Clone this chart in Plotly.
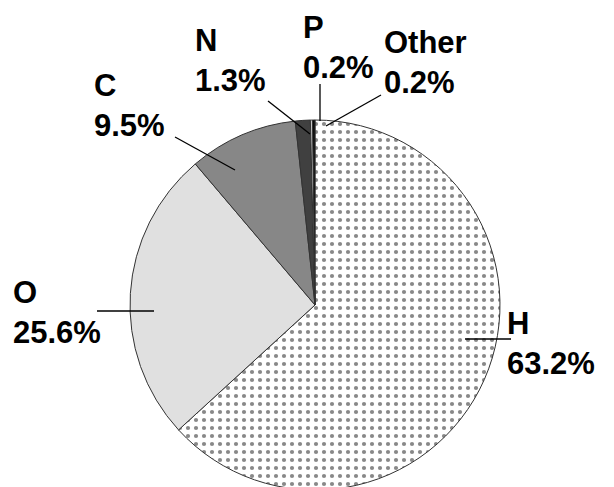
import plotly.graph_objects as go

W, H = 614, 487

elements = ["H", "O", "C", "N", "P", "Other"]
percents = [63.2, 25.6, 9.5, 1.3, 0.2, 0.2]
colors = ["#ffffff", "#e0e0e0", "#878787", "#404040", "#c8c8c8", "#000000"]

# label block top-left positions (pixels) and leader lines (pixels)
label_pos = {
    "H": (498, 297), "O": (4, 266), "C": (85, 59),
    "N": (186, 14), "P": (294, 1), "Other": (375, 16),
}
leaders = {
    "H": ((457, 331), (503, 331)),
    "O": ((89, 303), (146, 303)),
    "C": ((167, 129), (227, 162)),
    "N": ((260, 93), (302, 126)),
    "P": ((312, 76), (312, 113)),
    "Other": ((373, 87), (318, 118)),
}

def px(x):
    return x / W

def py(y):
    return 1 - y / H

patterns = ["." if e == "H" else "" for e in elements]

fig = go.Figure(go.Pie(
    labels=elements, values=percents, sort=False, direction="clockwise",
    rotation=0, textinfo="none", hoverinfo="label+percent",
    marker=dict(colors=colors, line=dict(color="#333333", width=1),
                pattern=dict(shape=patterns, fgcolor="#111111", bgcolor="#ffffff",
                             size=8, solidity=0.22, fillmode="overlay")),
    domain=dict(x=[117 / W, 497 / W], y=[py(482), py(112)]),
))

for e, p in zip(elements, percents):
    x0, y0 = label_pos[e]
    fig.add_annotation(x=px(x0), y=py(y0), xref="paper", yref="paper",
                       xanchor="left", yanchor="top", align="left", showarrow=False,
                       borderpad=0,
                       text=f"<b>{e}<br>{p}%</b>",
                       font=dict(family="Liberation Sans, Arial", size=31, color="#000"))
    (a, b), (c, d) = leaders[e]
    fig.add_shape(type="line", xref="paper", yref="paper",
                  x0=px(a), y0=py(b), x1=px(c), y1=py(d),
                  line=dict(color="#000", width=1.3))

fig.update_layout(width=W, height=H, margin=dict(l=0, r=0, t=0, b=0),
                  showlegend=False, paper_bgcolor="#fff", plot_bgcolor="#fff")
fig.write_html("out.html")
